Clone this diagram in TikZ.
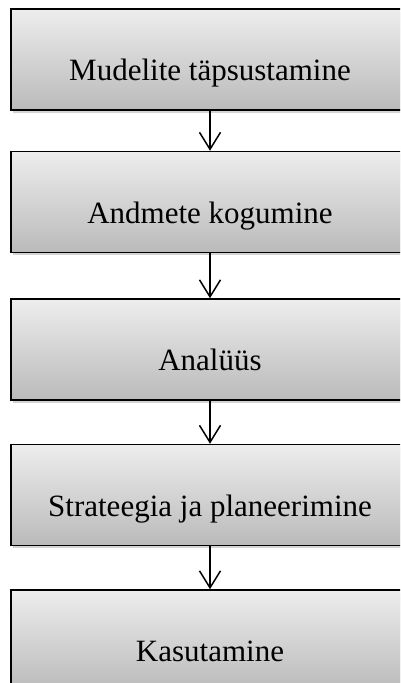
\documentclass[tikz,border=0pt]{standalone}
\usepackage{fontspec}
\setmainfont{Liberation Serif}
\usetikzlibrary{positioning, shadows, arrows.meta}

\tikzset{
  stage/.style={draw, line width=1.5pt, top color=black!7, bottom color=black!27,
    minimum width=398pt, minimum height=101pt, text height=42pt, text depth=0pt,
    font=\fontsize{31}{36}\selectfont,
    drop shadow={shadow xshift=1.5pt, shadow yshift=-2.5pt, opacity=0.35}},
  flow/.style={line width=1.5pt, -{Straight Barb[length=17pt, width=21pt, line width=1.5pt]}}
}

\begin{document}
\begin{tikzpicture}
  \useasboundingbox (0,0) rectangle (400pt,-683pt);
  \clip (0,0) rectangle (400pt,-683pt);
  \node[stage] (tapsustamine) at (210pt,-59.5pt) {Mudelite täpsustamine};
  \node[stage, below=40pt of tapsustamine] (kogumine) {Andmete kogumine};
  \node[stage, below=45pt of kogumine] (analuus) {Analüüs};
  \node[stage, below=43pt of analuus] (strateegia) {Strateegia ja planeerimine};
  \node[stage, below=43pt of strateegia] (kasutamine) {Kasutamine};
  \draw[flow] (tapsustamine) -- (kogumine);
  \draw[flow] (kogumine) -- (analuus);
  \draw[flow] (analuus) -- (strateegia);
  \draw[flow] (strateegia) -- (kasutamine);
\end{tikzpicture}
\end{document}
